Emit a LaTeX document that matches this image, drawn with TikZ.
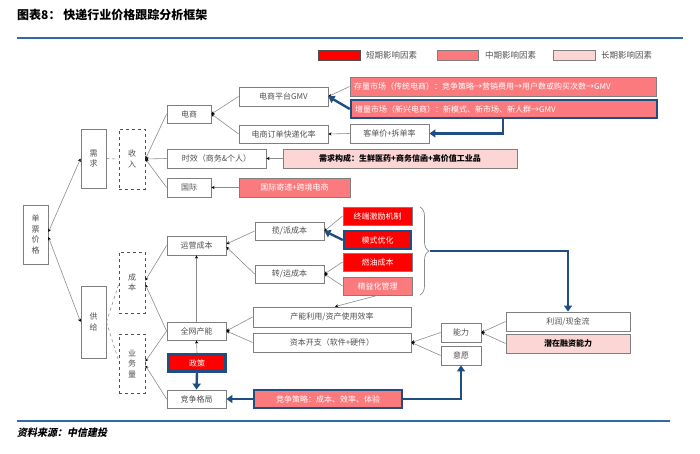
\documentclass[tikz,border=0pt]{standalone}
\usepackage{fontspec}
\setmainfont{Noto Sans CJK SC}
\newfontfamily\cjkit{Noto Sans CJK SC}[FakeSlant=0.2]
\usetikzlibrary{arrows.meta,decorations.pathreplacing}
\definecolor{myred}{HTML}{FF0000}
\definecolor{mysalmon}{HTML}{FA7A7E}
\definecolor{mypink}{HTML}{FCD5D5}
\definecolor{mynavy}{HTML}{1F4E82}
\definecolor{boxgray}{HTML}{7F7F7F}
\definecolor{txtgray}{HTML}{505050}
\definecolor{linegray}{HTML}{8C8C8C}
\definecolor{ruleblue}{HTML}{2E6AA6}
\tikzset{
  nbox/.style={draw=boxgray, line width=0.8pt, fill=white, text=txtgray, font=\fontsize{8}{10.5}\selectfont, inner sep=0pt, align=center},
  dbox/.style={nbox, dashed, draw=txtgray},
  redb/.style={nbox, fill=myred, draw=boxgray, text=white},
  salb/.style={nbox, fill=mysalmon, draw=boxgray, text=white},
  pinkb/.style={nbox, fill=mypink, draw=boxgray, text=black, font=\fontsize{8}{10.5}\selectfont\bfseries},
  navyedge/.style={draw=mynavy, line width=2.4pt},
  conn/.style={draw=linegray, line width=0.6pt, -{Stealth[length=3.2pt,width=3.2pt,black]}},
  conn2/.style={draw=linegray, line width=0.6pt, {Stealth[length=3.2pt,width=3.2pt,black]}-{Stealth[length=3.2pt,width=3.2pt,black]}},
  dline/.style={draw=linegray, line width=0.6pt, dashed},
  navyarrow/.style={draw=mynavy, line width=2.4pt, -{Triangle[length=6pt,width=8pt]}},
  legtext/.style={anchor=west, text=txtgray, font=\fontsize{8.5}{10}\selectfont, inner sep=0pt},
}
\begin{document}
\begin{tikzpicture}[x=1pt,y=-1pt]
\useasboundingbox (0,0) rectangle (700,454);
% title and rules
\node[anchor=west, inner sep=0pt, font=\fontsize{12}{14}\selectfont\bfseries] (title) at (17,15) {图表8：\ 快递行业价格跟踪分析框架};
\draw[ruleblue, line width=1.4pt] (17,38) -- (683,38);
\draw[ruleblue, line width=1.2pt] (17,421) -- (670,421);
\node[anchor=west, inner sep=0pt, font=\cjkit\fontsize{10}{12}\selectfont\bfseries] (src) at (17,433) {资料来源：中信建投};
% legend
\node[nbox, fill=myred, draw=txtgray, minimum width=42pt, minimum height=10pt] (l1) at (339,55) {};
\node[legtext] (t1) at (366,55) {短期影响因素};
\node[nbox, fill=mysalmon, minimum width=41pt, minimum height=10pt] (l2) at (457.5,55) {};
\node[legtext] (t2) at (485,55) {中期影响因素};
\node[nbox, fill=mypink, minimum width=42pt, minimum height=10pt] (l3) at (574,55) {};
\node[legtext] (t3) at (601,55) {长期影响因素};
% left tree
\node[nbox, minimum width=25pt, minimum height=59pt] (dpjg) at (35.5,234.5) {单\\票\\价\\格};
\node[nbox, minimum width=25pt, minimum height=59pt] (xq) at (93.5,158.5) {需\\求};
\node[nbox, minimum width=25pt, minimum height=72pt] (gg) at (93.5,322) {供\\给};
\node[dbox, minimum width=26pt, minimum height=60pt] (sr) at (132,159) {收\\入};
\node[dbox, minimum width=26pt, minimum height=61pt] (cb) at (132,282.5) {成\\本};
\node[dbox, minimum width=26pt, minimum height=59pt] (ywl) at (132,363.5) {业\\务\\量};
% demand side
\node[nbox, minimum width=44pt, minimum height=18pt] (ds) at (189,114) {电商};
\node[nbox, minimum width=99pt, minimum height=19pt] (sx) at (216.5,158.5) {时效（商务\&个人）};
\node[nbox, minimum width=44pt, minimum height=19pt] (gj) at (189,187.5) {国际};
\node[nbox, minimum width=89pt, minimum height=19pt] (gmv) at (283.5,96.5) {电商平台GMV};
\node[nbox, minimum width=89pt, minimum height=18pt] (ddk) at (283.5,134) {电商订单快递化率};
\node[salb, minimum width=111pt, minimum height=19pt] (gjjd) at (294.5,187.5) {国际寄递+跨境电商};
\node[pinkb, minimum width=234pt, minimum height=19pt] (xqgc) at (400,158.5) {需求构成：生鲜医药+商务信函+高价值工业品};
\node[salb, minimum width=306pt, minimum height=19pt, text width=298pt, align=left] (cl) at (503,86.5) {存量市场（传统电商）：竞争策略→营销费用→用户数或购买次数→GMV};
\node[salb, navyedge, minimum width=306pt, minimum height=18pt, text width=298pt, align=left] (zl) at (504,109) {增量市场（新兴电商）：新模式、新市场、新人群→GMV};
\node[nbox, minimum width=79pt, minimum height=19pt] (kdj) at (389.5,133.5) {客单价+拆单率};
% supply side
\node[nbox, minimum width=59pt, minimum height=19pt] (yycb) at (196.5,245.5) {运营成本};
\node[nbox, minimum width=59pt, minimum height=18pt] (qwcn) at (196.5,331) {全网产能};
\node[redb, navyedge, minimum width=57pt, minimum height=17pt] (zc) at (197,363) {政策};
\node[nbox, minimum width=59pt, minimum height=18pt] (jzgj) at (196.5,399) {竞争格局};
\node[nbox, minimum width=69pt, minimum height=18pt] (lp) at (289.5,231) {揽/派成本};
\node[nbox, minimum width=69pt, minimum height=18pt] (zy) at (289.5,274) {转/运成本};
\node[nbox, minimum width=158pt, minimum height=20pt] (cnly) at (332,317) {产能利用/资产使用效率};
\node[nbox, minimum width=158pt, minimum height=19pt] (zbkz) at (332,342.5) {资本开支（软件+硬件）};
\node[salb, navyedge, minimum width=148pt, minimum height=18pt] (jzcl) at (328,399) {竞争策略：成本、效率、体验};
\node[redb, minimum width=69pt, minimum height=18pt] (zdjl) at (377.5,216) {终端激励机制};
\node[redb, navyedge, minimum width=67pt, minimum height=18pt] (msyh) at (377.5,240) {模式优化};
\node[redb, minimum width=69pt, minimum height=18pt] (ry) at (377.5,262) {燃油成本};
\node[salb, minimum width=69pt, minimum height=18pt] (jyh) at (377.5,286) {精益化管理};
\node[nbox, minimum width=40pt, minimum height=19pt] (nl) at (461,332.5) {能力};
\node[nbox, minimum width=40pt, minimum height=19pt] (yy) at (461,355.5) {意愿};
\node[nbox, minimum width=124pt, minimum height=19pt] (lr) at (568,321.5) {利润/现金流};
\node[pinkb, minimum width=124pt, minimum height=19pt] (qzrz) at (568,343.5) {潜在融资能力};
% brace
\draw[linegray, line width=0.7pt, decorate, decoration={brace, amplitude=9pt, aspect=0.5}] (420,207) -- (420,295);
\coordinate (bt) at (430,251);
% connectors: left tree
\draw[conn2] ([yshift=2.5pt]dpjg.east) -- (xq.west);
\draw[conn2] ([yshift=-2.5pt]dpjg.east) -- (gg.west);
\draw[dline] (xq.east) -- (sr.west);
\draw[dline] (gg.east) -- ([yshift=-2pt]cb.west);
\draw[dline] (gg.east) -- ([yshift=3pt]ywl.west);
\draw[conn] (ds.west) -- (sr.east);
\draw[conn] (sx.west) -- (sr.east);
\draw[conn] (gj.west) -- (sr.east);
\draw[conn] (gmv.west) -- (ds.east);
\draw[conn] (ddk.west) -- (ds.east);
\draw[conn] (xqgc.west) -- (sx.east);
\draw[conn] (gjjd.west) -- (gj.east);
\draw[conn] (cl.west) -- (gmv.east);
\draw[navyarrow] (zl.west) -- (gmv.east);
\draw[conn] (kdj.west) -- (ddk.east);
\draw[navyarrow] ([xshift=-1pt]zl.south) |- (kdj.east);
% connectors: supply
\draw[conn] (yycb.west) -- ([yshift=2pt]cb.east);
\draw[conn] (qwcn.west) -- ([yshift=-2pt]cb.east);
\draw[conn] (qwcn.west) -- ([yshift=2pt]ywl.east);
\draw[conn] (jzgj.west) -- ([yshift=-2pt]ywl.east);
\draw[conn] (lp.west) -- ([yshift=1.5pt]yycb.east);
\draw[conn] (zy.west) -- ([yshift=-1.5pt]yycb.east);
\draw[conn] (qwcn.north) -- (yycb.south);
\draw[conn] (zc.north) -- (qwcn.south);
\draw[navyarrow] (zc.south) -- (jzgj.north);
\draw[conn] (cnly.west) -- (qwcn.east);
\draw[conn] (zbkz.west) -- (qwcn.east);
\draw[conn] (zdjl.west) -- (lp.east);
\draw[navyarrow] (msyh.west) -- (lp.east);
\draw[conn] (ry.west) -- (zy.east);
\draw[conn] (jyh.west) -- (zy.east);
\draw[conn] (jyh.south) -- ([xshift=3pt]cnly.north);
\draw[conn] (nl.west) -- (zbkz.east);
\draw[conn] (yy.west) -- (zbkz.east);
\draw[conn] (lr.west) -- (nl.east);
\draw[conn] (qzrz.west) -- (nl.east);
\draw[navyarrow] (jzcl.west) -- (jzgj.east);
\draw[navyarrow] (jzcl.east) -| (yy.south);
\draw[navyarrow] (bt) -| (lr.north);
\end{tikzpicture}
\end{document}
